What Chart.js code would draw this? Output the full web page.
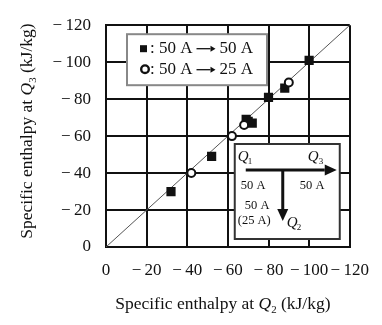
<!DOCTYPE html>
<html>
<head>
<meta charset="utf-8">
<script src="https://cdn.jsdelivr.net/npm/chart.js@4"></script>
<style>
  html, body { margin: 0; padding: 0; background: #fff; }
  .chart-container { width: 382px; height: 325px; position: relative; }
</style>
</head>
<body>
<div class="chart-container">
    <canvas id="enthalpyChart"></canvas>
</div>

<script>
    // values (kJ/kg, negative)
    const sameCurrentQ2 = [-32, -52, -69, -70, -72, -80, -88, -100];
    const sameCurrentQ3 = [-30, -49, -69, -68, -67, -81, -86, -101];
    const halfCurrentQ2 = [-42, -62, -68, -90];
    const halfCurrentQ3 = [-40, -60, -66, -89];
    const diagonal = [0, -120];
    const tickValues = [0, -20, -40, -60, -80, -100, -120];

    const serif = '"Liberation Serif", "DejaVu Serif", serif';

    function toPoints(xs, ys) {
        return xs.map((x, i) => ({ x: x, y: ys[i] }));
    }

    function fmtTick(v) {
        return v === 0 ? '0' : '\u2212\u2009' + Math.abs(v);
    }

    // draws text like "Specific enthalpy at Q_n (kJ/kg)" with italic Q and subscript
    function drawSubLabel(ctx, x, y, before, sym, sub, after, size) {
        ctx.font = size + 'px ' + serif;
        const w1 = ctx.measureText(before).width;
        ctx.font = 'italic ' + size + 'px ' + serif;
        const w2 = ctx.measureText(sym).width;
        ctx.font = (size * 0.62) + 'px ' + serif;
        const w3 = ctx.measureText(sub).width;
        ctx.font = size + 'px ' + serif;
        const w4 = ctx.measureText(after).width;
        let cx = x - (w1 + w2 + w3 + w4) / 2;
        ctx.textAlign = 'left';
        ctx.textBaseline = 'alphabetic';
        ctx.fillStyle = '#111';
        ctx.font = size + 'px ' + serif;
        ctx.fillText(before, cx, y); cx += w1;
        ctx.font = 'italic ' + size + 'px ' + serif;
        ctx.fillText(sym, cx, y); cx += w2;
        ctx.font = (size * 0.62) + 'px ' + serif;
        ctx.fillText(sub, cx, y + size * 0.22); cx += w3;
        ctx.font = size + 'px ' + serif;
        ctx.fillText(after, cx, y);
    }

    function arrow(ctx, x1, y1, x2, y2, hl, hw) {
        const ang = Math.atan2(y2 - y1, x2 - x1);
        ctx.beginPath();
        ctx.moveTo(x1, y1);
        ctx.lineTo(x2 - Math.cos(ang) * hl, y2 - Math.sin(ang) * hl);
        ctx.stroke();
        ctx.beginPath();
        ctx.moveTo(x2, y2);
        ctx.lineTo(x2 - Math.cos(ang) * hl - Math.sin(ang) * hw, y2 - Math.sin(ang) * hl + Math.cos(ang) * hw);
        ctx.lineTo(x2 - Math.cos(ang) * hl + Math.sin(ang) * hw, y2 - Math.sin(ang) * hl - Math.cos(ang) * hw);
        ctx.closePath();
        ctx.fill();
    }

    function legendRow(ctx, x, y) {
        ctx.font = '17px ' + serif;
        ctx.textAlign = 'left';
        ctx.textBaseline = 'middle';
        const t1 = ': 50 A';
        ctx.fillText(t1, x, y);
        const ax = x + ctx.measureText(t1).width + 4;
        ctx.lineWidth = 1.3;
        arrow(ctx, ax, y + 0.5, ax + 19, y + 0.5, 5, 3);
        return ax + 23;
    }

    const decorPlugin = {
        id: 'decor',
        afterDraw(chart) {
            const ctx = chart.ctx;
            const ca = chart.chartArea;
            ctx.save();

            // axis titles
            drawSubLabel(ctx, (ca.left + ca.right) / 2 - 5, 309, 'Specific enthalpy at ', 'Q', '2', ' (kJ/kg)', 17.5);
            ctx.save();
            ctx.translate(32, (ca.top + ca.bottom) / 2 - 5);
            ctx.rotate(-Math.PI / 2);
            drawSubLabel(ctx, 0, 0, 'Specific enthalpy at ', 'Q', '3', ' (kJ/kg)', 17.5);
            ctx.restore();

            // legend box
            const lx = ca.left + 21, ly = ca.top + 9;
            ctx.fillStyle = '#fff';
            ctx.fillRect(lx, ly, 140, 51);
            ctx.strokeStyle = '#888';
            ctx.lineWidth = 2;
            ctx.strokeRect(lx, ly, 140, 51);
            ctx.fillStyle = '#111';
            ctx.strokeStyle = '#111';
            ctx.fillRect(lx + 13, ly + 11, 7, 7);
            ctx.beginPath();
            ctx.arc(lx + 18, ly + 35, 3.8, 0, Math.PI * 2);
            ctx.lineWidth = 2.4;
            ctx.stroke();
            let nx = legendRow(ctx, lx + 23, ly + 14);
            ctx.fillText('50 A', nx, ly + 14);
            nx = legendRow(ctx, lx + 23, ly + 35);
            ctx.fillText('25 A', nx, ly + 35);

            // inset flow diagram
            const bx = ca.right - 115, by = ca.bottom - 103;
            ctx.fillStyle = '#fff';
            ctx.fillRect(bx, by, 105, 95);
            ctx.strokeStyle = '#333';
            ctx.lineWidth = 2;
            ctx.strokeRect(bx, by, 105, 95);

            ctx.strokeStyle = '#111';
            ctx.fillStyle = '#111';
            ctx.lineWidth = 3;
            arrow(ctx, bx + 11, by + 26, bx + 102, by + 26, 12, 5.5);
            arrow(ctx, bx + 48, by + 26, bx + 48, by + 77, 12, 5.5);

            ctx.fillStyle = '#111';
            ctx.font = 'italic 15px ' + serif;
            ctx.textAlign = 'left';
            ctx.textBaseline = 'alphabetic';
            ctx.fillText('Q', bx + 3, by + 17);
            ctx.fillText('Q', bx + 73, by + 17);
            ctx.fillText('Q', bx + 52, by + 83);
            ctx.font = '9px ' + serif;
            ctx.fillText('1', bx + 13, by + 20);
            ctx.fillText('3', bx + 84, by + 20);
            ctx.fillText('2', bx + 62, by + 86);
            ctx.font = '12.5px ' + serif;
            ctx.fillText('50 A', bx + 6, by + 45);
            ctx.fillText('50 A', bx + 65, by + 45);
            ctx.fillText('50 A', bx + 10, by + 65);
            ctx.fillText('(25 A)', bx + 3, by + 80);

            ctx.restore();
        }
    };

    const ctx = document.getElementById('enthalpyChart').getContext('2d');
    new Chart(ctx, {
        type: 'scatter',
        data: {
            datasets: [
                {
                    label: 'diagonal',
                    data: toPoints(diagonal, diagonal),
                    showLine: true,
                    borderColor: '#555',
                    borderWidth: 1,
                    pointRadius: 0,
                    order: 3
                },
                {
                    label: '50 A \u2192 50 A',
                    data: toPoints(sameCurrentQ2, sameCurrentQ3),
                    pointStyle: 'rect',
                    pointRadius: 6.5,
                    backgroundColor: '#111',
                    borderColor: '#111',
                    borderWidth: 0,
                    order: 2
                },
                {
                    label: '50 A \u2192 25 A',
                    data: toPoints(halfCurrentQ2, halfCurrentQ3),
                    pointStyle: 'circle',
                    pointRadius: 4,
                    backgroundColor: '#fff',
                    borderColor: '#111',
                    borderWidth: 2,
                    order: 1
                }
            ]
        },
        options: {
            responsive: true,
            maintainAspectRatio: false,
            animation: false,
            layout: { padding: { top: 9, right: 25, left: 0, bottom: 0 } },
            plugins: {
                legend: { display: false },
                tooltip: { enabled: false }
            },
            scales: {
                x: {
                    type: 'linear',
                    reverse: true,
                    min: -120,
                    max: 0,
                    afterBuildTicks: axis => { axis.ticks = tickValues.map(v => ({ value: v })); },
                    afterFit: axis => { axis.height = 78; },
                    grid: { color: '#111', lineWidth: 2, drawTicks: false },
                    border: { color: '#111', width: 2 },
                    ticks: {
                        color: '#111',
                        padding: 13,
                        maxRotation: 0,
                        font: { family: serif, size: 17 },
                        callback: fmtTick
                    }
                },
                y: {
                    type: 'linear',
                    reverse: true,
                    min: -120,
                    max: 0,
                    afterBuildTicks: axis => { axis.ticks = tickValues.map(v => ({ value: v })); },
                    afterFit: axis => { axis.width = 106; },
                    grid: { color: '#111', lineWidth: 2, drawTicks: false },
                    border: { color: '#111', width: 2 },
                    ticks: {
                        color: '#111',
                        padding: 15,
                        font: { family: serif, size: 17 },
                        callback: fmtTick
                    }
                }
            }
        },
        plugins: [decorPlugin]
    });
</script>
</body>
</html>
